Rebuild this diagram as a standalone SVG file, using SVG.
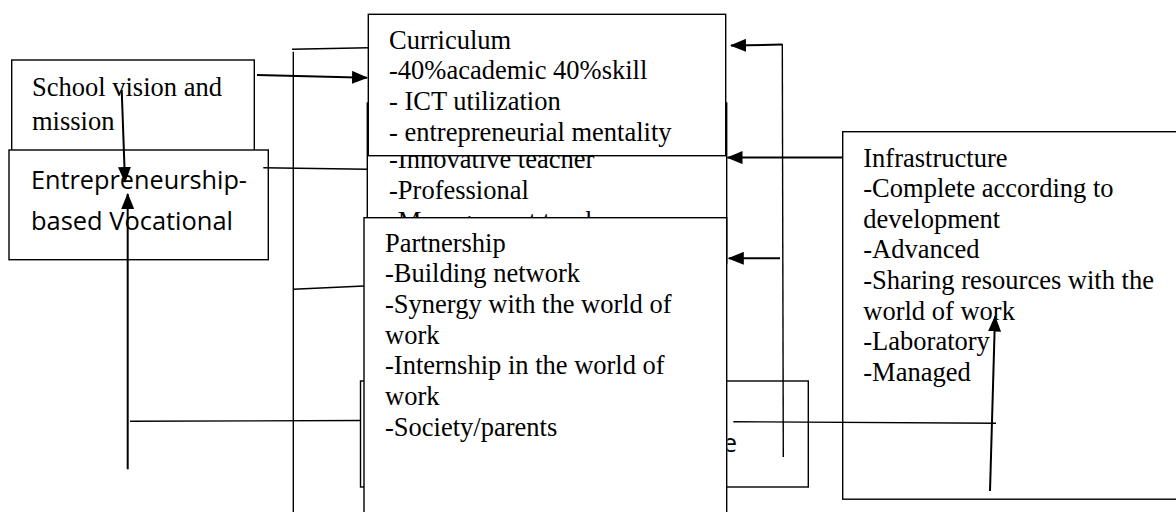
<svg xmlns="http://www.w3.org/2000/svg" width="1176" height="512" viewBox="0 0 1176 512">
  <style>
    .box { fill: #fff; stroke: #000; stroke-width: 1.4; }
    .serif { font-family: "Liberation Serif", "Times New Roman", serif; font-size: 26.5px; fill: #000; }
    .sans { font-family: "Open Sans", "Liberation Sans", sans-serif; font-size: 25px; fill: #000; }
    .line { fill: none; stroke: #000; stroke-width: 1.4; }
    .arrow { fill: none; stroke: #000; stroke-width: 2; marker-end: url(#head); }
  </style>
  <defs>
    <marker id="head" markerUnits="userSpaceOnUse" viewBox="0 0 16 13" markerWidth="16" markerHeight="13" refX="15" refY="6.5" orient="auto">
      <path d="M0,0 L16,6.5 L0,13 z" fill="#000"/>
    </marker>
    <!-- visible strip of the teachers box between Curriculum and Partnership -->
    <clipPath id="teachers-strip">
      <rect x="367" y="155.7" width="360" height="62"/>
    </clipPath>
    <!-- visible part of the lower box right of Partnership -->
    <clipPath id="lower-strip">
      <rect x="727.4" y="381" width="81" height="106"/>
    </clipPath>
  </defs>

  <rect width="1176" height="512" fill="#fff"/>

  <!-- School vision and mission -->
  <g id="school-vision">
    <rect class="box" x="11.7" y="60" width="242.6" height="92"/>
    <text class="serif" x="32" y="96">School vision and</text>
    <text class="serif" x="32" y="130">mission</text>
  </g>

  <!-- Entrepreneurship-based Vocational -->
  <g id="vocational">
    <rect class="box" x="9" y="150" width="259.3" height="109.7"/>
    <text class="sans" x="31" y="189" textLength="216" lengthAdjust="spacingAndGlyphs">Entrepreneurship-</text>
    <text class="sans" x="31" y="230" textLength="202" lengthAdjust="spacingAndGlyphs">based Vocational</text>
  </g>

  <!-- Lower box, mostly covered by Partnership -->
  <g id="lower-box">
    <rect class="box" x="360.5" y="381" width="447.8" height="106"/>
    <text class="sans" x="723" y="451.7" clip-path="url(#lower-strip)">e</text>
  </g>

  <!-- Teachers box, partly covered by Curriculum and Partnership -->
  <g id="teachers">
    <rect class="box" x="367.3" y="103" width="359.4" height="160"/>
    <g clip-path="url(#teachers-strip)">
      <text class="serif" x="389" y="168.3">-Innovative teacher</text>
      <text class="serif" x="389" y="199">-Professional</text>
      <text class="serif" x="389" y="229.6">-Management teacher</text>
    </g>
  </g>

  <!-- Curriculum -->
  <g id="curriculum">
    <rect class="box" x="368.3" y="14.3" width="357.4" height="141.4"/>
    <text class="serif" x="389" y="48.5">Curriculum</text>
    <text class="serif" x="389" y="79.2">-40%academic 40%skill</text>
    <text class="serif" x="389" y="109.8">- ICT utilization</text>
    <text class="serif" x="389" y="140.5">- entrepreneurial mentality</text>
  </g>

  <!-- Partnership -->
  <g id="partnership">
    <rect class="box" x="364" y="217.7" width="362.7" height="320"/>
    <text class="serif" x="385" y="251.6">Partnership</text>
    <text class="serif" x="385" y="282.3">-Building network</text>
    <text class="serif" x="385" y="313">-Synergy with the world of</text>
    <text class="serif" x="385" y="343.6">work</text>
    <text class="serif" x="385" y="374.3">-Internship in the world of</text>
    <text class="serif" x="385" y="405">work</text>
    <text class="serif" x="385" y="435.6">-Society/parents</text>
  </g>

  <!-- Infrastructure -->
  <g id="infrastructure">
    <rect class="box" x="842.7" y="131.7" width="360" height="367.5"/>
    <text class="serif" x="863.3" y="166.6">Infrastructure</text>
    <text class="serif" x="863.3" y="197.2">-Complete according to</text>
    <text class="serif" x="863.3" y="227.8">development</text>
    <text class="serif" x="863.3" y="258.4">-Advanced</text>
    <text class="serif" x="863.3" y="289">-Sharing resources with the</text>
    <text class="serif" x="863.3" y="319.6">world of work</text>
    <text class="serif" x="863.3" y="350.2">-Laboratory</text>
    <text class="serif" x="863.3" y="380.8">-Managed</text>
  </g>

  <!-- Connectors -->
  <g id="connectors">
    <!-- left bus -->
    <line class="line" x1="292" y1="49.3" x2="368.3" y2="47.7"/>
    <line class="line" x1="293.3" y1="51.7" x2="293.3" y2="512"/>
    <line class="line" x1="293.3" y1="289.3" x2="364" y2="286"/>
    <line class="line" x1="263.3" y1="167.7" x2="367.3" y2="169.3"/>
    <line class="line" x1="130" y1="421.3" x2="360.5" y2="420.5"/>
    <!-- right bus -->
    <line class="line" x1="782.3" y1="44" x2="783.3" y2="457"/>
    <line class="line" x1="733.3" y1="421.7" x2="996" y2="423.3"/>
    <!-- arrows -->
    <line class="arrow" x1="257" y1="75" x2="367" y2="77.7"/>
    <line class="arrow" x1="121.7" y1="90" x2="125" y2="182"/>
    <line class="arrow" x1="127.7" y1="469.3" x2="127.7" y2="194"/>
    <line class="arrow" x1="782.3" y1="44.6" x2="731" y2="45.6"/>
    <line class="arrow" x1="842.7" y1="157.6" x2="727.5" y2="157.6"/>
    <line class="arrow" x1="780" y1="258.3" x2="728.8" y2="258.3"/>
    <line class="arrow" x1="990" y1="491" x2="995" y2="316.5"/>
  </g>
</svg>
